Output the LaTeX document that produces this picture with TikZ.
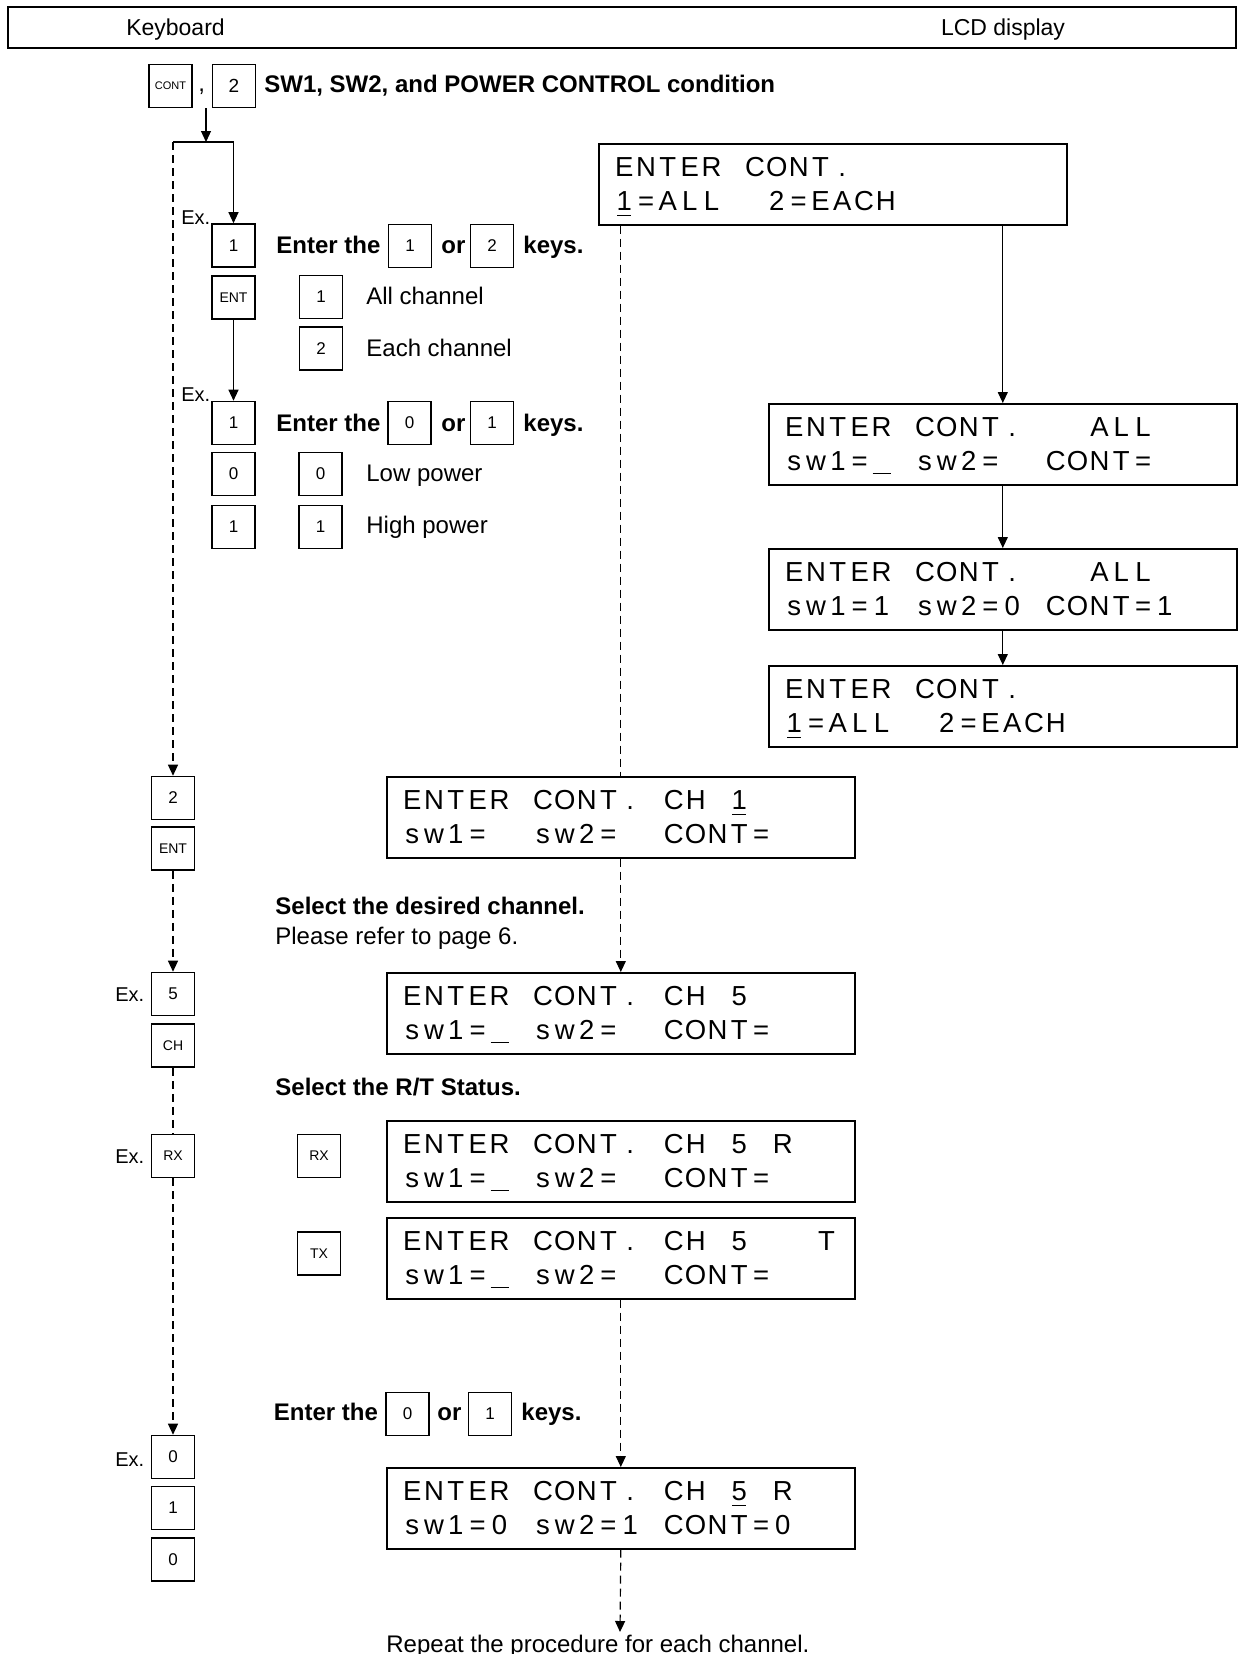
\documentclass[tikz,border=0pt]{standalone}
\usepackage{fontspec}
\setmainfont{Liberation Sans}
\usetikzlibrary{arrows.meta,calc}

\newlength\lcdcw \setlength\lcdcw{10.9pt}
\newcommand\lcdcell[1]{\makebox[\lcdcw][c]{#1}}
\newcommand\lcdtxt[1]{\lcdloop#1\relax}
\def\lcdloop#1{\ifx\relax#1\else\lcdcell{#1}\expandafter\lcdloop\fi}
\newcommand\lcdU[1]{\makebox[0pt][c]{#1}\makebox[0pt][c]{\rule[-3pt]{7pt}{0.7pt}}}
\newcommand\lcdC{\makebox[0pt][c]{\rule[-2pt]{9pt}{0.7pt}}}
\newcommand\lcdbox[5]{%
  \node[lcd, anchor=north west] (#1) at (#2,#3) {};
  \node[lcdline, anchor=base west] (#1a) at ($(#1.north west)+(15,33)$) {\lcdtxt{#4}};
  \node[lcdline, anchor=base west] (#1b) at ($(#1.north west)+(15,67)$) {\lcdtxt{#5}};
}

\begin{document}
\begin{tikzpicture}[x=0.5pt,y=-0.5pt,
  key/.style={draw, line width=0.8pt, minimum width=21.5pt, minimum height=21.5pt, inner sep=0pt, font=\fontsize{8.5}{10}\selectfont},
  skey/.style={key, font=\fontsize{7}{8}\selectfont},
  lcd/.style={draw, line width=0.8pt, minimum width=234pt, minimum height=40.5pt, inner sep=0pt},
  lcdline/.style={inner sep=0pt, font=\fontsize{13.75}{16}\selectfont},
  txt/.style={inner sep=0pt, anchor=base west, font=\fontsize{12}{14}\selectfont},
  btxt/.style={txt, font=\fontsize{12}{14}\selectfont\bfseries},
  ex/.style={txt, font=\fontsize{10}{12}\selectfont},
  hd/.style={inner sep=0pt, anchor=base, font=\fontsize{11.5}{13}\selectfont},
  arr/.style={line width=0.6pt, -{Triangle[length=5.5pt,width=5pt]}},
  darr/.style={arr, dash pattern=on 4pt off 2.5pt},
  dline/.style={line width=0.6pt, dash pattern=on 4pt off 2.5pt}]

\useasboundingbox (0,0) rectangle (1239,1654);

% header
\node[draw, line width=0.8pt, minimum width=614pt, minimum height=20.5pt, inner sep=0pt] (hdr) at (622,27.5) {};
\node[hd] (kb) at (175.5,35) {Keyboard};
\node[hd] (lcdh) at (1003,35) {LCD display};

% top row
\node[key, font=\fontsize{5.5}{6}\selectfont] (kcont) at (170.5,86) {CONT};
\node[txt] (comma) at (198,91) {,};
\node[key, font=\fontsize{9.5}{11}\selectfont] (k2top) at (234,86) {2};
\node[btxt] (title) at (264,92) {SW1, SW2, and POWER CONTROL condition};

\coordinate (top) at (206,108);
\coordinate (jl) at (173,142);
\coordinate (jm) at (206,142);
\coordinate (jr) at (233.5,142);

% first key column
\node[key] (k1a) at (233.5,245.5) {1};
\node[skey] (kent1) at (233.5,297.5) {ENT};
\node[key] (k1b) at (233.5,423) {1};
\node[key] (k0a) at (233.5,474) {0};
\node[key] (k1c) at (233.5,527) {1};
\node[ex] (ex1) at (181,224) {Ex.};
\node[ex] (ex2) at (181,401) {Ex.};

\node[btxt] (ent1) at (276,253) {Enter the};
\node[key] (ke1) at (410,246) {1};
\node[btxt] (or1) at (441,253) {or};
\node[key] (ke2) at (492,246) {2};
\node[btxt] (keys1) at (523,253) {keys.};
\node[key] (kall) at (321,297) {1};
\node[txt] (tall) at (366,304) {All channel};
\node[key] (keach) at (321,348.5) {2};
\node[txt] (teach) at (366,356) {Each channel};

\node[btxt] (ent2) at (276,431) {Enter the};
\node[key] (ke0) at (409.5,423) {0};
\node[btxt] (or2) at (441,431) {or};
\node[key] (ke1b) at (492,423) {1};
\node[btxt] (keys2) at (523,431) {keys.};
\node[key] (klow) at (320.5,474) {0};
\node[txt] (tlow) at (366,481.5) {Low power};
\node[key] (khigh) at (320.5,527) {1};
\node[txt] (thigh) at (366,533) {High power};

% lower key column
\node[key] (k2b) at (173,798) {2};
\node[skey] (kent2) at (173,848.5) {ENT};
\node[ex] (ex3) at (115,1001) {Ex.};
\node[key] (k5) at (173,994) {5};
\node[skey] (kch) at (173,1045.5) {CH};
\node[ex] (ex4) at (115,1163) {Ex.};
\node[skey] (krx) at (173,1156) {RX};
\node[ex] (ex5) at (115,1466) {Ex.};
\node[key] (k0b) at (173,1457) {0};
\node[key] (k1d) at (173,1508) {1};
\node[key] (k0c) at (173,1559.5) {0};

% middle texts and keys
\node[btxt] (seldes) at (275,914) {Select the desired channel.};
\node[txt] (please) at (275,944) {Please refer to page 6.};
\node[btxt] (selrt) at (275,1095) {Select the R/T Status.};
\node[skey] (krx2) at (319,1156) {RX};
\node[skey] (ktx) at (319,1253.5) {TX};
\node[btxt] (ent3) at (273.5,1420) {Enter the};
\node[key] (ke0c) at (407.5,1414) {0};
\node[btxt] (or3) at (437,1420) {or};
\node[key] (ke1c) at (490,1414) {1};
\node[btxt] (keys3) at (521,1420) {keys.};
\node[txt] (rep) at (386,1652) {Repeat the procedure for each channel.};

% LCD displays
\lcdbox{lcdA}{598}{143}{ENTER~CONT.}{{\lcdU{1}}=ALL~~2=EACH}
\lcdbox{lcdB}{768}{403}{ENTER~CONT.~~~ALL}{sw1={\lcdC}~sw2=~~CONT=}
\lcdbox{lcdC}{768}{548}{ENTER~CONT.~~~ALL}{sw1=1~sw2=0~CONT=1}
\lcdbox{lcdD}{768}{665}{ENTER~CONT.}{{\lcdU{1}}=ALL~~2=EACH}
\lcdbox{ch1}{386}{776}{ENTER~CONT.~CH~{\lcdU{1}}}{sw1=~~sw2=~~CONT=}
\lcdbox{ch5}{386}{972}{ENTER~CONT.~CH~5}{sw1={\lcdC}~sw2=~~CONT=}
\lcdbox{rx}{386}{1120}{ENTER~CONT.~CH~5~R}{sw1={\lcdC}~sw2=~~CONT=}
\lcdbox{tx}{386}{1217}{ENTER~CONT.~CH~5~~~T}{sw1={\lcdC}~sw2=~~CONT=}
\lcdbox{fin}{386}{1467}{ENTER~CONT.~CH~{\lcdU{5}}~R}{sw1=0~sw2=1~CONT=0}

\coordinate (repend) at (620,1632);

% connectors
\draw[arr] (top) -- (jm);
\draw[line width=0.6pt] (jl) -- (jr);
\draw[arr] (jr) -- (k1a.north);
\draw[arr] (kent1.south) -- (k1b.north);
\draw[darr] (jl) -- (k2b.north);
\draw[darr] (kent2.south) -- (k5.north);
\draw[dline] (kch.south) -- (krx.north);
\draw[darr] (krx.south) -- (k0b.north);

\draw[arr] (lcdA.south -| lcdB.north) -- (lcdB.north);
\draw[arr] (lcdB.south) -- (lcdC.north);
\draw[arr] (lcdC.south) -- (lcdD.north);

\draw[dline] (ch1.north |- lcdA.south) -- (ch1.north);
\draw[darr] (ch1.south) -- (ch5.north);
\draw[darr] (tx.south) -- (fin.north);
\draw[darr] (fin.south) -- (repend);
\end{tikzpicture}
\end{document}
